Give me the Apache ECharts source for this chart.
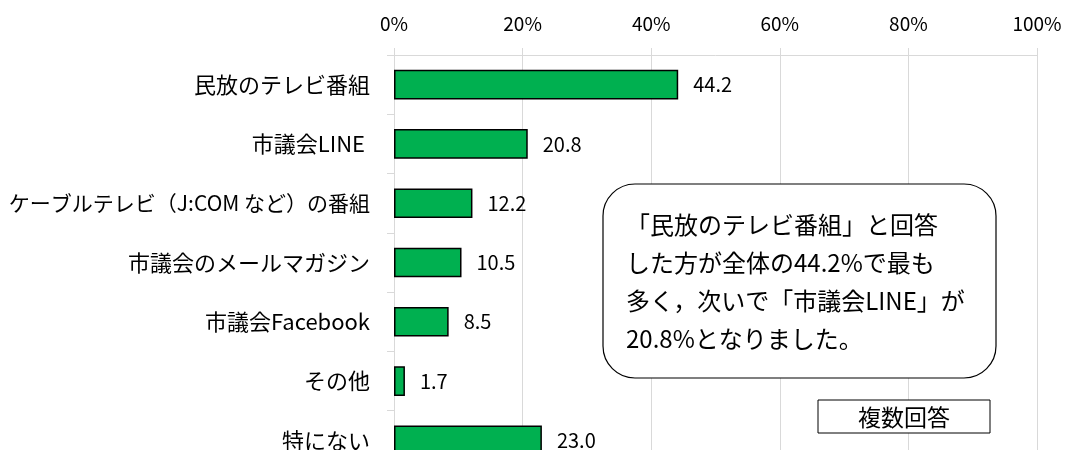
<!DOCTYPE html>
<html>
<head>
<meta charset="utf-8">
<script src="https://cdn.jsdelivr.net/npm/echarts@6/dist/echarts.min.js"></script>
<style>
    html, body { margin: 0; padding: 0; background: #fff; }
    #bar { width: 1077px; height: 450px; }
</style>
</head>
<body>
<div id="bar"></div>
<script>
    // 項目と割合（％）
    const categories = [
        '民放のテレビ番組',
        '市議会LINE ',
        'ケーブルテレビ（J:COM など）の番組',
        '市議会のメールマガジン',
        '市議会Facebook',
        'その他',
        '特にない'
    ]
    const values = [44.2, 20.8, 12.2, 10.5, 8.5, 1.7, 23.0]
    const tickLabels = ['0%', '20%', '40%', '60%', '80%', '100%']

    const font = '"Noto Sans CJK JP", "Noto Sans", sans-serif'
    const gray = '#d9d9d9'

    let option = {
        animation: false,
        grid: {
            left: 394,
            right: 40,
            top: 55,
            height: 415,
            outerBoundsMode: 'none',
        },
        xAxis: {
            type: 'value',
            position: 'top',
            min: 0,
            max: 100,
            interval: 20,
            axisLine: { show: true, lineStyle: { color: gray } },
            axisTick: { show: true, length: 7, lineStyle: { color: gray } },
            splitLine: { show: true, lineStyle: { color: gray } },
            axisLabel: {
                margin: 22,
                fontSize: 19,
                fontFamily: font,
                color: '#000',
                formatter: (v) => tickLabels[v / 20],
            },
        },
        yAxis: {
            type: 'category',
            inverse: true,
            data: categories,
            axisLine: { show: true, lineStyle: { color: gray } },
            axisTick: { show: true, length: 7, lineStyle: { color: gray } },
            axisLabel: {
                margin: 24,
                fontSize: 22,
                fontFamily: font,
                color: '#000',
                // 長い項目だけ少し小さく（全角括弧の幅が広いため）
                formatter: (v) => v.length > 15 ? '{s|' + v + '}' : v,
                rich: {
                    s: { fontSize: 21, fontFamily: font, color: '#000' },
                },
            },
        },
        series: [
            {
                type: 'bar',
                data: values,
                barWidth: '50%',
                itemStyle: {
                    color: '#00b050',
                    borderColor: '#000',
                    borderWidth: 1.5,
                },
                label: {
                    show: true,
                    position: 'right',
                    distance: 15,
                    fontSize: 20,
                    fontFamily: font,
                    color: '#000',
                    formatter: (p) => p.value.toFixed(1),
                },
            },
        ],
        graphic: [
            {
                type: 'rect',
                shape: { x: 603, y: 184, width: 393, height: 194, r: 32 },
                style: { fill: '#fff', stroke: '#000', lineWidth: 1.2 },
                z: 10,
            },
            {
                type: 'text',
                x: 626,
                y: 206,
                z: 11,
                style: {
                    text: '「民放のテレビ番組」と回答\nした方が全体の44.2%で最も\n多く，次いで「市議会LINE」が\n20.8%となりました。',
                    fontSize: 24,
                    lineHeight: 38,
                    fontFamily: font,
                    fill: '#000',
                },
            },
            {
                type: 'rect',
                shape: { x: 818, y: 400, width: 172, height: 33 },
                style: { fill: '#fff', stroke: '#000', lineWidth: 1 },
                z: 10,
            },
            {
                type: 'text',
                x: 904,
                y: 417,
                z: 11,
                style: {
                    text: '複数回答',
                    fontSize: 23,
                    fontFamily: font,
                    fill: '#000',
                    align: 'center',
                    verticalAlign: 'middle',
                },
            },
        ],
    }

    let myChart = echarts.init(document.getElementById('bar'))
    myChart.setOption(option)
</script>
</body>
</html>
